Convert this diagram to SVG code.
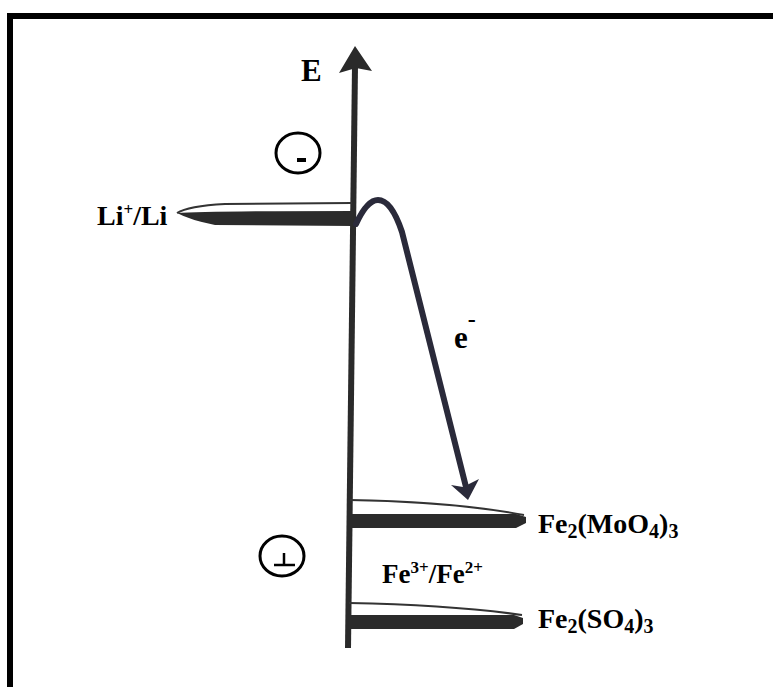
<svg xmlns="http://www.w3.org/2000/svg" width="773" height="687" viewBox="0 0 773 687">
<style>
.t{font-family:"Liberation Serif","Times New Roman",serif;font-weight:bold;fill:#000}
.thin{fill:none;stroke:#333;stroke-width:2}
.bar{fill:#2b2b2b}
</style>
<rect width="773" height="687" fill="#fff"/>
<g id="frame">
<rect x="7" y="13" width="766" height="6" fill="#000"/>
<rect x="7" y="13" width="6" height="674" fill="#000"/>
</g>
<g id="axis">
<line x1="348" y1="648" x2="355" y2="66" stroke="#2a2a2a" stroke-width="6"/>
<polygon points="355,46 372,71 356,68 339,73" fill="#2a2a2a"/>
<text class="t" x="301" y="81" font-size="31">E</text>
</g>
<g id="minus">
<ellipse cx="298" cy="153" rx="22" ry="20" fill="none" stroke="#000" stroke-width="3"/>
<rect x="297" y="158" width="9" height="4" fill="#000"/>
</g>
<g id="plus">
<ellipse cx="282" cy="556" rx="22" ry="20" fill="none" stroke="#000" stroke-width="3"/>
<line x1="274" y1="565" x2="295" y2="565" stroke="#000" stroke-width="2.5"/>
<line x1="284" y1="553" x2="284" y2="565" stroke="#000" stroke-width="2.5"/>
</g>
<g id="li-level">
<path class="thin" d="M352,203 L225,204 Q188,206 177,213"/>
<path class="bar" d="M353,211 L353,226 L215,225 Q190,220 177,213 Q205,211 353,211 Z"/>
<text class="t" x="97" y="225" font-size="28">Li<tspan font-size="17" dy="-10">+</tspan><tspan dy="10">/Li</tspan></text>
</g>
<g id="mo-level">
<path class="thin" d="M350,500 Q455,502 524,515"/>
<path class="bar" d="M350,514 L516,514 L526,517 L526,523 L516,528 L350,528 Z"/>
<text class="t" x="538" y="533" font-size="28">Fe<tspan font-size="20" dy="5">2</tspan><tspan dy="-5">(MoO</tspan><tspan font-size="20" dy="5">4</tspan><tspan dy="-5">)</tspan><tspan font-size="20" dy="5">3</tspan></text>
</g>
<g id="fe-label">
<text class="t" x="382" y="583" font-size="27">Fe<tspan font-size="17" dy="-10">3+</tspan><tspan dy="10">/Fe</tspan><tspan font-size="17" dy="-10">2+</tspan></text>
</g>
<g id="s-level">
<path class="thin" d="M349,603 Q452,605 522,615"/>
<path class="bar" d="M349,615 L514,615 L523,618 L523,624 L514,629 L349,629 Z"/>
<text class="t" x="538" y="628" font-size="28">Fe<tspan font-size="20" dy="5">2</tspan><tspan dy="-5">(SO</tspan><tspan font-size="20" dy="5">4</tspan><tspan dy="-5">)</tspan><tspan font-size="20" dy="5">3</tspan></text>
</g>
<g id="connectors">
<path d="M356,224 C362,211 370,200 378,200 C388,200 396,214 402,232 L466,487" fill="none" stroke="#2a2a3a" stroke-width="6" stroke-linecap="round"/>
<polygon points="468,500 451,485 463,487 479,479" fill="#2a2a3a"/>
<text class="t" x="454" y="348" font-size="31">e<tspan font-size="24" dy="-21">-</tspan></text>
</g>
</svg>
